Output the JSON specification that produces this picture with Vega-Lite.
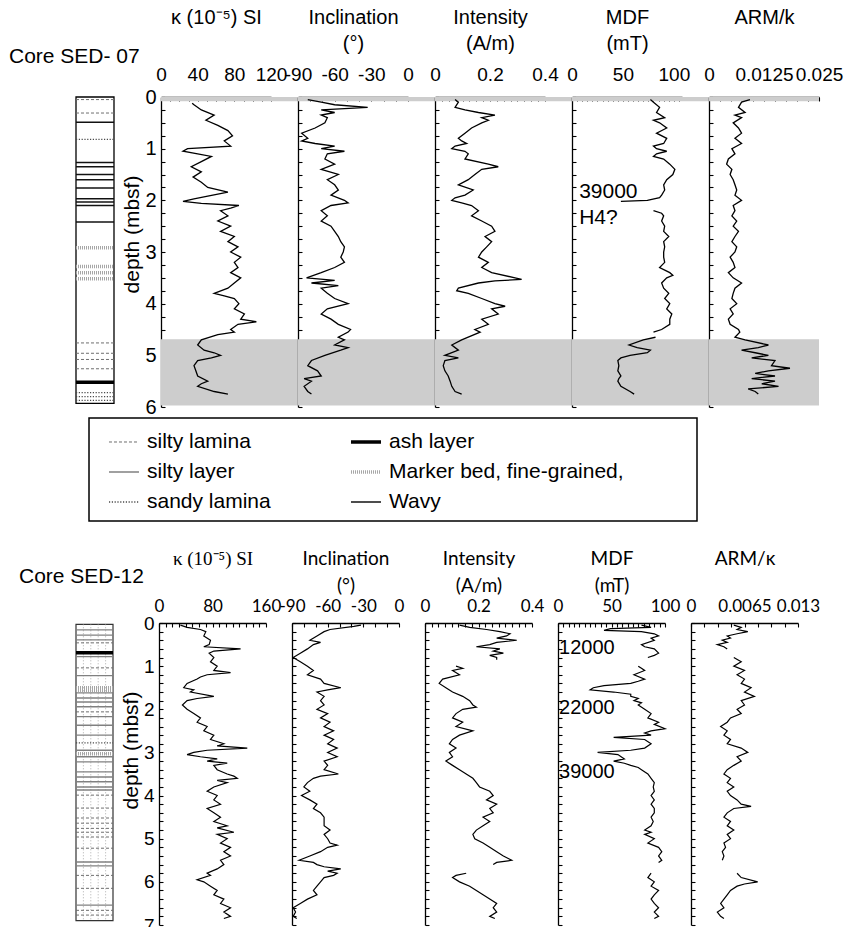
{
  "$schema": "https://vega.github.io/schema/vega-lite/v6.json",
  "padding": {"left": 8, "top": 6, "right": 5, "bottom": 5},
  "background": "white",
  "config": {
    "view": {"stroke": "transparent"},
    "font": "Liberation Sans",
    "axis": {
      "grid": false,
      "domainColor": "black",
      "domainWidth": 1.3,
      "tickColor": "black",
      "tickWidth": 1.1,
      "tickSize": -4,
      "labelColor": "black",
      "titleColor": "black",
      "titleFontWeight": "normal",
      "labelOverlap": false,
      "labelFlush": false
    }
  },
  "datasets": {
    "bands07": [{"d0": 0, "d1": 0.08}, {"d0": 4.69, "d1": 5.97}],
    "lith07": [
      {"d": 0.05, "type": "silty lamina"}, {"d": 0.31, "type": "silty lamina"}, {"d": 0.49, "type": "Wavy"},
      {"d": 0.82, "type": "sandy lamina"}, {"d": 1.27, "type": "Wavy"}, {"d": 1.35, "type": "Wavy"},
      {"d": 1.5, "type": "Wavy"}, {"d": 1.6, "type": "Wavy"}, {"d": 1.76, "type": "Wavy"},
      {"d": 1.97, "type": "Wavy"}, {"d": 2.03, "type": "Wavy"}, {"d": 2.1, "type": "Wavy"},
      {"d": 2.42, "type": "Wavy"}, {"d": 2.92, "type": "Marker bed, fine-grained,"},
      {"d": 3.28, "type": "Marker bed, fine-grained,"}, {"d": 3.4, "type": "Marker bed, fine-grained,"},
      {"d": 3.52, "type": "Marker bed, fine-grained,"}, {"d": 4.76, "type": "silty lamina"},
      {"d": 4.96, "type": "silty lamina"}, {"d": 5.08, "type": "silty lamina"}, {"d": 5.26, "type": "silty lamina"},
      {"d": 5.52, "type": "ash layer"}, {"d": 5.72, "type": "sandy lamina"}, {"d": 5.8, "type": "sandy lamina"},
      {"d": 5.87, "type": "sandy lamina"}
    ],
    "lith12": [
      {"d": 0.16, "type": "silty layer"}, {"d": 0.28, "type": "silty layer"}, {"d": 0.39, "type": "silty layer"},
      {"d": 0.46, "type": "silty lamina"}, {"d": 0.69, "type": "ash layer"}, {"d": 0.78, "type": "silty layer"},
      {"d": 1.04, "type": "silty lamina"}, {"d": 1.22, "type": "silty layer"}, {"d": 1.5, "type": "Marker bed, fine-grained,"},
      {"d": 1.56, "type": "Marker bed, fine-grained,"}, {"d": 1.62, "type": "silty layer"}, {"d": 1.74, "type": "silty layer"},
      {"d": 1.83, "type": "silty layer"}, {"d": 1.94, "type": "silty layer"}, {"d": 2.06, "type": "silty lamina"},
      {"d": 2.17, "type": "silty layer"}, {"d": 2.37, "type": "silty layer"}, {"d": 2.6, "type": "silty layer"},
      {"d": 2.78, "type": "sandy lamina"}, {"d": 2.95, "type": "silty layer"}, {"d": 3.03, "type": "Marker bed, fine-grained,"},
      {"d": 3.1, "type": "silty layer"}, {"d": 3.22, "type": "silty layer"}, {"d": 3.45, "type": "silty layer"},
      {"d": 3.57, "type": "silty layer"}, {"d": 3.68, "type": "silty layer"}, {"d": 3.8, "type": "silty layer"},
      {"d": 3.87, "type": "silty layer"}, {"d": 3.99, "type": "silty lamina"}, {"d": 4.29, "type": "silty lamina"},
      {"d": 4.52, "type": "silty lamina"}, {"d": 4.64, "type": "silty lamina"}, {"d": 4.76, "type": "silty lamina"},
      {"d": 4.85, "type": "silty lamina"}, {"d": 4.96, "type": "silty lamina"}, {"d": 5.22, "type": "silty lamina"},
      {"d": 5.54, "type": "silty layer"}, {"d": 5.63, "type": "silty layer"}, {"d": 5.85, "type": "silty lamina"},
      {"d": 6.15, "type": "silty lamina"}, {"d": 6.54, "type": "silty layer"}, {"d": 6.66, "type": "silty lamina"},
      {"d": 6.77, "type": "silty lamina"}
    ],
    "legend": [
      {"type": "silty lamina", "col": 1, "row": 1},
      {"type": "silty layer", "col": 1, "row": 2},
      {"type": "sandy lamina", "col": 1, "row": 3},
      {"type": "ash layer", "col": 2, "row": 1},
      {"type": "Marker bed, fine-grained,", "col": 2, "row": 2},
      {"type": "Wavy", "col": 2, "row": 3}
    ],
    "notes07": [{"d": 1.83, "v": 7, "label": "39000"}, {"d": 2.35, "v": 7, "label": "H4?"}],
    "notes12": [{"d": 0.58, "v": 1, "label": "12000"}, {"d": 1.97, "v": 1, "label": "22000"}, {"d": 3.45, "v": 1, "label": "39000"}],
    "k07": [
      {"d": 0.12, "v": 34}, {"d": 0.15, "v": 36}, {"d": 0.25, "v": 44}, {"d": 0.35, "v": 58}, {"d": 0.45, "v": 49},
      {"d": 0.55, "v": 62}, {"d": 0.65, "v": 73}, {"d": 0.75, "v": 78}, {"d": 0.85, "v": 69}, {"d": 0.95, "v": 76},
      {"d": 1.0, "v": 29}, {"d": 1.05, "v": 24}, {"d": 1.1, "v": 40}, {"d": 1.15, "v": 55}, {"d": 1.25, "v": 44},
      {"d": 1.35, "v": 33}, {"d": 1.45, "v": 44}, {"d": 1.55, "v": 35}, {"d": 1.65, "v": 44}, {"d": 1.75, "v": 51},
      {"d": 1.84, "v": 73}, {"d": 1.92, "v": 51}, {"d": 1.97, "v": 36}, {"d": 2.02, "v": 24}, {"d": 2.06, "v": 44},
      {"d": 2.1, "v": 85}, {"d": 2.15, "v": 76}, {"d": 2.2, "v": 65}, {"d": 2.3, "v": 73}, {"d": 2.4, "v": 62},
      {"d": 2.5, "v": 76}, {"d": 2.6, "v": 65}, {"d": 2.7, "v": 80}, {"d": 2.8, "v": 73}, {"d": 2.9, "v": 84},
      {"d": 3.0, "v": 76}, {"d": 3.1, "v": 87}, {"d": 3.2, "v": 80}, {"d": 3.3, "v": 84}, {"d": 3.4, "v": 76},
      {"d": 3.5, "v": 87}, {"d": 3.6, "v": 80}, {"d": 3.7, "v": 73}, {"d": 3.8, "v": 58}, {"d": 3.85, "v": 69},
      {"d": 3.9, "v": 80}, {"d": 4.0, "v": 85}, {"d": 4.1, "v": 80}, {"d": 4.2, "v": 91}, {"d": 4.3, "v": 87},
      {"d": 4.35, "v": 104}, {"d": 4.4, "v": 84}, {"d": 4.5, "v": 76}, {"d": 4.55, "v": 80}, {"d": 4.6, "v": 62},
      {"d": 4.7, "v": 44}, {"d": 4.8, "v": 40}, {"d": 4.9, "v": 47}, {"d": 4.95, "v": 58}, {"d": 5.0, "v": 65},
      {"d": 5.05, "v": 55}, {"d": 5.1, "v": 40}, {"d": 5.2, "v": 36}, {"d": 5.3, "v": 38}, {"d": 5.4, "v": 40},
      {"d": 5.5, "v": 51}, {"d": 5.55, "v": 44}, {"d": 5.6, "v": 40}, {"d": 5.7, "v": 58}, {"d": 5.75, "v": 73}
    ],
    "inc07": [
      {"d": 0.05, "v": -82}, {"d": 0.1, "v": -71}, {"d": 0.15, "v": -60}, {"d": 0.2, "v": -33}, {"d": 0.25, "v": -71},
      {"d": 0.3, "v": -60}, {"d": 0.35, "v": -71}, {"d": 0.4, "v": -66}, {"d": 0.5, "v": -68}, {"d": 0.6, "v": -76},
      {"d": 0.7, "v": -87}, {"d": 0.8, "v": -82}, {"d": 0.85, "v": -87}, {"d": 0.9, "v": -76}, {"d": 0.95, "v": -60},
      {"d": 1.0, "v": -71}, {"d": 1.05, "v": -52}, {"d": 1.1, "v": -66}, {"d": 1.2, "v": -68}, {"d": 1.3, "v": -60},
      {"d": 1.4, "v": -71}, {"d": 1.5, "v": -57}, {"d": 1.6, "v": -66}, {"d": 1.7, "v": -60}, {"d": 1.8, "v": -57},
      {"d": 1.9, "v": -63}, {"d": 2.0, "v": -52}, {"d": 2.05, "v": -49}, {"d": 2.1, "v": -63}, {"d": 2.2, "v": -71},
      {"d": 2.3, "v": -66}, {"d": 2.4, "v": -71}, {"d": 2.5, "v": -63}, {"d": 2.6, "v": -60}, {"d": 2.7, "v": -57},
      {"d": 2.8, "v": -55}, {"d": 2.9, "v": -52}, {"d": 3.0, "v": -53}, {"d": 3.1, "v": -55}, {"d": 3.2, "v": -52},
      {"d": 3.3, "v": -60}, {"d": 3.4, "v": -71}, {"d": 3.5, "v": -83}, {"d": 3.55, "v": -60}, {"d": 3.6, "v": -79},
      {"d": 3.65, "v": -57}, {"d": 3.7, "v": -71}, {"d": 3.8, "v": -66}, {"d": 3.9, "v": -60}, {"d": 4.0, "v": -49},
      {"d": 4.1, "v": -66}, {"d": 4.2, "v": -71}, {"d": 4.3, "v": -63}, {"d": 4.4, "v": -57}, {"d": 4.5, "v": -47},
      {"d": 4.55, "v": -49}, {"d": 4.65, "v": -57}, {"d": 4.7, "v": -52}, {"d": 4.8, "v": -60}, {"d": 4.85, "v": -49},
      {"d": 4.9, "v": -55}, {"d": 5.0, "v": -68}, {"d": 5.1, "v": -79}, {"d": 5.2, "v": -82}, {"d": 5.3, "v": -74},
      {"d": 5.4, "v": -71}, {"d": 5.45, "v": -85}, {"d": 5.5, "v": -79}, {"d": 5.6, "v": -85}, {"d": 5.7, "v": -82},
      {"d": 5.75, "v": -79}
    ],
    "int07": [
      {"d": 0.05, "v": 0.073}, {"d": 0.1, "v": 0.085}, {"d": 0.2, "v": 0.073}, {"d": 0.25, "v": 0.109}, {"d": 0.3, "v": 0.158},
      {"d": 0.35, "v": 0.218}, {"d": 0.4, "v": 0.17}, {"d": 0.45, "v": 0.194}, {"d": 0.5, "v": 0.17}, {"d": 0.6, "v": 0.133},
      {"d": 0.7, "v": 0.109}, {"d": 0.8, "v": 0.085}, {"d": 0.85, "v": 0.097}, {"d": 0.9, "v": 0.115}, {"d": 0.95, "v": 0.073},
      {"d": 1.0, "v": 0.061}, {"d": 1.05, "v": 0.109}, {"d": 1.1, "v": 0.121}, {"d": 1.2, "v": 0.109}, {"d": 1.3, "v": 0.194},
      {"d": 1.35, "v": 0.23}, {"d": 1.4, "v": 0.17}, {"d": 1.5, "v": 0.145}, {"d": 1.6, "v": 0.121}, {"d": 1.7, "v": 0.085},
      {"d": 1.8, "v": 0.139}, {"d": 1.9, "v": 0.109}, {"d": 1.95, "v": 0.073}, {"d": 2.0, "v": 0.061}, {"d": 2.05, "v": 0.097},
      {"d": 2.1, "v": 0.133}, {"d": 2.2, "v": 0.158}, {"d": 2.3, "v": 0.133}, {"d": 2.4, "v": 0.17}, {"d": 2.5, "v": 0.206},
      {"d": 2.6, "v": 0.218}, {"d": 2.7, "v": 0.182}, {"d": 2.8, "v": 0.206}, {"d": 2.9, "v": 0.188}, {"d": 3.0, "v": 0.17},
      {"d": 3.1, "v": 0.158}, {"d": 3.2, "v": 0.194}, {"d": 3.3, "v": 0.17}, {"d": 3.4, "v": 0.206}, {"d": 3.5, "v": 0.291},
      {"d": 3.53, "v": 0.315}, {"d": 3.56, "v": 0.218}, {"d": 3.6, "v": 0.158}, {"d": 3.7, "v": 0.085}, {"d": 3.75, "v": 0.079},
      {"d": 3.8, "v": 0.121}, {"d": 3.9, "v": 0.17}, {"d": 4.0, "v": 0.218}, {"d": 4.05, "v": 0.255}, {"d": 4.1, "v": 0.206},
      {"d": 4.2, "v": 0.23}, {"d": 4.3, "v": 0.17}, {"d": 4.4, "v": 0.194}, {"d": 4.5, "v": 0.145}, {"d": 4.55, "v": 0.164},
      {"d": 4.7, "v": 0.097}, {"d": 4.8, "v": 0.061}, {"d": 4.9, "v": 0.085}, {"d": 5.0, "v": 0.036}, {"d": 5.05, "v": 0.085},
      {"d": 5.1, "v": 0.036}, {"d": 5.2, "v": 0.03}, {"d": 5.3, "v": 0.036}, {"d": 5.4, "v": 0.048}, {"d": 5.5, "v": 0.055},
      {"d": 5.6, "v": 0.061}, {"d": 5.7, "v": 0.073}, {"d": 5.75, "v": 0.097}
    ],
    "mdf07": [
      {"d": 0.05, "v": 77, "s": 1}, {"d": 0.1, "v": 80, "s": 1}, {"d": 0.2, "v": 86, "s": 1}, {"d": 0.3, "v": 83, "s": 1},
      {"d": 0.4, "v": 91, "s": 1}, {"d": 0.45, "v": 80, "s": 1}, {"d": 0.5, "v": 86, "s": 1}, {"d": 0.6, "v": 93, "s": 1},
      {"d": 0.7, "v": 83, "s": 1}, {"d": 0.8, "v": 93, "s": 1}, {"d": 0.9, "v": 90, "s": 1}, {"d": 0.95, "v": 80, "s": 1},
      {"d": 1.0, "v": 83, "s": 1}, {"d": 1.05, "v": 93, "s": 1}, {"d": 1.1, "v": 83, "s": 1}, {"d": 1.15, "v": 80, "s": 1},
      {"d": 1.2, "v": 90, "s": 1}, {"d": 1.3, "v": 96, "s": 1}, {"d": 1.4, "v": 101, "s": 1}, {"d": 1.5, "v": 99, "s": 1},
      {"d": 1.6, "v": 93, "s": 1}, {"d": 1.7, "v": 90, "s": 1}, {"d": 1.8, "v": 91, "s": 1}, {"d": 1.9, "v": 88, "s": 1},
      {"d": 1.95, "v": 86, "s": 1}, {"d": 2.0, "v": 74, "s": 1}, {"d": 2.02, "v": 48, "s": 1},
      {"d": 2.2, "v": 80, "s": 2}, {"d": 2.25, "v": 88, "s": 2}, {"d": 2.3, "v": 90, "s": 2}, {"d": 2.4, "v": 88, "s": 2},
      {"d": 2.5, "v": 91, "s": 2}, {"d": 2.6, "v": 90, "s": 2}, {"d": 2.7, "v": 95, "s": 2}, {"d": 2.8, "v": 90, "s": 2},
      {"d": 2.9, "v": 91, "s": 2}, {"d": 3.0, "v": 90, "s": 2}, {"d": 3.1, "v": 90, "s": 2}, {"d": 3.2, "v": 91, "s": 2},
      {"d": 3.3, "v": 86, "s": 2}, {"d": 3.4, "v": 96, "s": 2}, {"d": 3.45, "v": 99, "s": 2}, {"d": 3.5, "v": 93, "s": 2},
      {"d": 3.6, "v": 88, "s": 2}, {"d": 3.7, "v": 90, "s": 2}, {"d": 3.8, "v": 95, "s": 2}, {"d": 3.9, "v": 91, "s": 2},
      {"d": 4.0, "v": 96, "s": 2}, {"d": 4.1, "v": 93, "s": 2}, {"d": 4.2, "v": 98, "s": 2}, {"d": 4.3, "v": 96, "s": 2},
      {"d": 4.4, "v": 96, "s": 2}, {"d": 4.5, "v": 88, "s": 2}, {"d": 4.55, "v": 80, "s": 2},
      {"d": 4.65, "v": 82, "s": 3}, {"d": 4.7, "v": 70, "s": 3}, {"d": 4.8, "v": 56, "s": 3}, {"d": 4.85, "v": 64, "s": 3},
      {"d": 4.9, "v": 77, "s": 3}, {"d": 4.95, "v": 74, "s": 3}, {"d": 5.0, "v": 57, "s": 3}, {"d": 5.05, "v": 48, "s": 3},
      {"d": 5.1, "v": 45, "s": 3}, {"d": 5.2, "v": 46, "s": 3}, {"d": 5.3, "v": 45, "s": 3}, {"d": 5.4, "v": 48, "s": 3},
      {"d": 5.45, "v": 46, "s": 3}, {"d": 5.5, "v": 45, "s": 3}, {"d": 5.6, "v": 48, "s": 3}, {"d": 5.7, "v": 57, "s": 3},
      {"d": 5.75, "v": 61, "s": 3}
    ],
    "arm07": [
      {"d": 0.05, "v": 0.0093}, {"d": 0.1, "v": 0.0074}, {"d": 0.2, "v": 0.0067}, {"d": 0.3, "v": 0.0082}, {"d": 0.35, "v": 0.0059},
      {"d": 0.4, "v": 0.0074}, {"d": 0.5, "v": 0.0055}, {"d": 0.6, "v": 0.0067}, {"d": 0.7, "v": 0.0074}, {"d": 0.8, "v": 0.0059},
      {"d": 0.9, "v": 0.0074}, {"d": 1.0, "v": 0.0052}, {"d": 1.1, "v": 0.0059}, {"d": 1.2, "v": 0.0044}, {"d": 1.3, "v": 0.004},
      {"d": 1.4, "v": 0.0052}, {"d": 1.5, "v": 0.0048}, {"d": 1.6, "v": 0.0055}, {"d": 1.7, "v": 0.0059}, {"d": 1.8, "v": 0.0063},
      {"d": 1.9, "v": 0.0059}, {"d": 2.0, "v": 0.0074}, {"d": 2.1, "v": 0.0055}, {"d": 2.2, "v": 0.0059}, {"d": 2.3, "v": 0.0052},
      {"d": 2.4, "v": 0.0063}, {"d": 2.5, "v": 0.0055}, {"d": 2.6, "v": 0.0067}, {"d": 2.7, "v": 0.0059}, {"d": 2.8, "v": 0.0052},
      {"d": 2.9, "v": 0.0063}, {"d": 3.0, "v": 0.0059}, {"d": 3.1, "v": 0.0048}, {"d": 3.2, "v": 0.0055}, {"d": 3.3, "v": 0.0059},
      {"d": 3.4, "v": 0.0044}, {"d": 3.5, "v": 0.0055}, {"d": 3.6, "v": 0.0074}, {"d": 3.7, "v": 0.0059}, {"d": 3.8, "v": 0.0055},
      {"d": 3.9, "v": 0.0052}, {"d": 4.0, "v": 0.0063}, {"d": 4.1, "v": 0.0048}, {"d": 4.2, "v": 0.0055}, {"d": 4.3, "v": 0.0044},
      {"d": 4.4, "v": 0.0048}, {"d": 4.5, "v": 0.0067}, {"d": 4.55, "v": 0.007}, {"d": 4.65, "v": 0.0059}, {"d": 4.7, "v": 0.0082},
      {"d": 4.8, "v": 0.0135}, {"d": 4.85, "v": 0.0112}, {"d": 4.9, "v": 0.0074}, {"d": 4.95, "v": 0.0105}, {"d": 5.0, "v": 0.0135},
      {"d": 5.05, "v": 0.0097}, {"d": 5.1, "v": 0.015}, {"d": 5.2, "v": 0.0142}, {"d": 5.25, "v": 0.0184}, {"d": 5.3, "v": 0.0135},
      {"d": 5.35, "v": 0.0105}, {"d": 5.4, "v": 0.015}, {"d": 5.45, "v": 0.0097}, {"d": 5.5, "v": 0.015}, {"d": 5.55, "v": 0.012},
      {"d": 5.6, "v": 0.0158}, {"d": 5.65, "v": 0.0089}, {"d": 5.7, "v": 0.0105}, {"d": 5.75, "v": 0.0112}
    ],
    "k12": [
      {"d": 0.05, "v": 32}, {"d": 0.1, "v": 42}, {"d": 0.15, "v": 62}, {"d": 0.2, "v": 70}, {"d": 0.3, "v": 67},
      {"d": 0.4, "v": 77}, {"d": 0.5, "v": 75}, {"d": 0.55, "v": 67}, {"d": 0.6, "v": 122}, {"d": 0.65, "v": 82},
      {"d": 0.7, "v": 75}, {"d": 0.8, "v": 82}, {"d": 0.9, "v": 77}, {"d": 1.0, "v": 87}, {"d": 1.1, "v": 82},
      {"d": 1.15, "v": 107}, {"d": 1.2, "v": 72}, {"d": 1.25, "v": 62}, {"d": 1.3, "v": 57}, {"d": 1.4, "v": 42},
      {"d": 1.5, "v": 37}, {"d": 1.55, "v": 52}, {"d": 1.6, "v": 47}, {"d": 1.7, "v": 82}, {"d": 1.75, "v": 57},
      {"d": 1.8, "v": 42}, {"d": 1.9, "v": 35}, {"d": 2.0, "v": 42}, {"d": 2.1, "v": 52}, {"d": 2.2, "v": 62},
      {"d": 2.3, "v": 57}, {"d": 2.4, "v": 72}, {"d": 2.5, "v": 67}, {"d": 2.6, "v": 82}, {"d": 2.7, "v": 77},
      {"d": 2.8, "v": 97}, {"d": 2.85, "v": 87}, {"d": 2.9, "v": 132}, {"d": 2.95, "v": 72}, {"d": 3.0, "v": 52},
      {"d": 3.05, "v": 42}, {"d": 3.1, "v": 62}, {"d": 3.15, "v": 87}, {"d": 3.2, "v": 72}, {"d": 3.25, "v": 102},
      {"d": 3.3, "v": 82}, {"d": 3.4, "v": 87}, {"d": 3.5, "v": 102}, {"d": 3.55, "v": 112}, {"d": 3.6, "v": 117},
      {"d": 3.65, "v": 87}, {"d": 3.7, "v": 102}, {"d": 3.8, "v": 82}, {"d": 3.9, "v": 72}, {"d": 4.0, "v": 87},
      {"d": 4.1, "v": 82}, {"d": 4.2, "v": 92}, {"d": 4.3, "v": 72}, {"d": 4.4, "v": 82}, {"d": 4.5, "v": 92},
      {"d": 4.6, "v": 82}, {"d": 4.7, "v": 102}, {"d": 4.75, "v": 87}, {"d": 4.85, "v": 112}, {"d": 4.9, "v": 87},
      {"d": 5.0, "v": 102}, {"d": 5.1, "v": 92}, {"d": 5.2, "v": 107}, {"d": 5.3, "v": 97}, {"d": 5.4, "v": 107},
      {"d": 5.5, "v": 92}, {"d": 5.6, "v": 97}, {"d": 5.7, "v": 87}, {"d": 5.8, "v": 72}, {"d": 5.85, "v": 77},
      {"d": 5.95, "v": 57}, {"d": 6.0, "v": 67}, {"d": 6.1, "v": 77}, {"d": 6.2, "v": 87}, {"d": 6.3, "v": 82},
      {"d": 6.4, "v": 97}, {"d": 6.5, "v": 92}, {"d": 6.6, "v": 107}, {"d": 6.7, "v": 97}, {"d": 6.8, "v": 107},
      {"d": 6.85, "v": 97}
    ],
    "inc12": [
      {"d": 0.05, "v": -32}, {"d": 0.08, "v": -38}, {"d": 0.15, "v": -58}, {"d": 0.2, "v": -63}, {"d": 0.3, "v": -69},
      {"d": 0.4, "v": -75}, {"d": 0.45, "v": -66}, {"d": 0.5, "v": -72}, {"d": 0.6, "v": -77}, {"d": 0.7, "v": -83},
      {"d": 0.8, "v": -89}, {"d": 0.9, "v": -83}, {"d": 1.0, "v": -77}, {"d": 1.1, "v": -72}, {"d": 1.2, "v": -77},
      {"d": 1.3, "v": -66}, {"d": 1.4, "v": -63}, {"d": 1.5, "v": -49}, {"d": 1.55, "v": -60}, {"d": 1.6, "v": -69},
      {"d": 1.7, "v": -63}, {"d": 1.8, "v": -66}, {"d": 1.9, "v": -63}, {"d": 2.0, "v": -69}, {"d": 2.1, "v": -60},
      {"d": 2.2, "v": -66}, {"d": 2.3, "v": -58}, {"d": 2.4, "v": -63}, {"d": 2.5, "v": -55}, {"d": 2.6, "v": -63},
      {"d": 2.7, "v": -55}, {"d": 2.8, "v": -60}, {"d": 2.9, "v": -52}, {"d": 3.0, "v": -60}, {"d": 3.1, "v": -52},
      {"d": 3.2, "v": -63}, {"d": 3.3, "v": -60}, {"d": 3.4, "v": -63}, {"d": 3.5, "v": -51}, {"d": 3.55, "v": -66},
      {"d": 3.6, "v": -72}, {"d": 3.7, "v": -77}, {"d": 3.8, "v": -80}, {"d": 3.9, "v": -75}, {"d": 4.0, "v": -82},
      {"d": 4.1, "v": -75}, {"d": 4.2, "v": -69}, {"d": 4.3, "v": -72}, {"d": 4.4, "v": -66}, {"d": 4.5, "v": -63},
      {"d": 4.7, "v": -63}, {"d": 4.8, "v": -58}, {"d": 4.9, "v": -63}, {"d": 5.0, "v": -60}, {"d": 5.1, "v": -58},
      {"d": 5.15, "v": -52}, {"d": 5.2, "v": -60}, {"d": 5.3, "v": -66}, {"d": 5.4, "v": -75}, {"d": 5.5, "v": -84},
      {"d": 5.55, "v": -72}, {"d": 5.6, "v": -69}, {"d": 5.65, "v": -63}, {"d": 5.7, "v": -49}, {"d": 5.75, "v": -60},
      {"d": 5.8, "v": -52}, {"d": 5.85, "v": -55}, {"d": 5.9, "v": -63}, {"d": 6.0, "v": -66}, {"d": 6.1, "v": -69},
      {"d": 6.2, "v": -72}, {"d": 6.3, "v": -69}, {"d": 6.4, "v": -77}, {"d": 6.5, "v": -83}, {"d": 6.6, "v": -89},
      {"d": 6.7, "v": -87}, {"d": 6.8, "v": -89}, {"d": 6.85, "v": -86}
    ],
    "int12": [
      {"d": 0.05, "v": 0.129, "s": 1}, {"d": 0.1, "v": 0.167, "s": 1}, {"d": 0.15, "v": 0.23, "s": 1}, {"d": 0.2, "v": 0.28, "s": 1},
      {"d": 0.25, "v": 0.318, "s": 1}, {"d": 0.3, "v": 0.305, "s": 1}, {"d": 0.35, "v": 0.268, "s": 1}, {"d": 0.4, "v": 0.343, "s": 1},
      {"d": 0.45, "v": 0.268, "s": 1}, {"d": 0.5, "v": 0.242, "s": 1}, {"d": 0.55, "v": 0.192, "s": 1}, {"d": 0.6, "v": 0.28, "s": 1},
      {"d": 0.65, "v": 0.255, "s": 1}, {"d": 0.7, "v": 0.293, "s": 1}, {"d": 0.75, "v": 0.242, "s": 1}, {"d": 0.8, "v": 0.268, "s": 1},
      {"d": 0.85, "v": 0.268, "s": 1},
      {"d": 1.0, "v": 0.116, "s": 2}, {"d": 1.05, "v": 0.141, "s": 2}, {"d": 1.1, "v": 0.103, "s": 2}, {"d": 1.2, "v": 0.129, "s": 2},
      {"d": 1.3, "v": 0.066, "s": 2}, {"d": 1.4, "v": 0.053, "s": 2}, {"d": 1.5, "v": 0.078, "s": 2}, {"d": 1.6, "v": 0.103, "s": 2},
      {"d": 1.7, "v": 0.141, "s": 2}, {"d": 1.8, "v": 0.167, "s": 2}, {"d": 1.9, "v": 0.179, "s": 2}, {"d": 1.95, "v": 0.192, "s": 2},
      {"d": 2.0, "v": 0.141, "s": 2}, {"d": 2.1, "v": 0.116, "s": 2}, {"d": 2.2, "v": 0.103, "s": 2}, {"d": 2.3, "v": 0.141, "s": 2},
      {"d": 2.4, "v": 0.116, "s": 2}, {"d": 2.5, "v": 0.179, "s": 2}, {"d": 2.6, "v": 0.129, "s": 2}, {"d": 2.7, "v": 0.103, "s": 2},
      {"d": 2.8, "v": 0.091, "s": 2}, {"d": 2.9, "v": 0.116, "s": 2}, {"d": 3.0, "v": 0.091, "s": 2}, {"d": 3.1, "v": 0.103, "s": 2},
      {"d": 3.2, "v": 0.078, "s": 2}, {"d": 3.3, "v": 0.103, "s": 2}, {"d": 3.4, "v": 0.129, "s": 2}, {"d": 3.5, "v": 0.154, "s": 2},
      {"d": 3.6, "v": 0.179, "s": 2}, {"d": 3.7, "v": 0.192, "s": 2}, {"d": 3.8, "v": 0.204, "s": 2}, {"d": 3.9, "v": 0.242, "s": 2},
      {"d": 4.0, "v": 0.255, "s": 2}, {"d": 4.1, "v": 0.23, "s": 2}, {"d": 4.2, "v": 0.268, "s": 2}, {"d": 4.3, "v": 0.242, "s": 2},
      {"d": 4.4, "v": 0.255, "s": 2}, {"d": 4.5, "v": 0.217, "s": 2}, {"d": 4.6, "v": 0.242, "s": 2}, {"d": 4.7, "v": 0.217, "s": 2},
      {"d": 4.8, "v": 0.192, "s": 2}, {"d": 4.9, "v": 0.179, "s": 2}, {"d": 5.0, "v": 0.186, "s": 2}, {"d": 5.1, "v": 0.217, "s": 2},
      {"d": 5.2, "v": 0.242, "s": 2}, {"d": 5.3, "v": 0.268, "s": 2}, {"d": 5.4, "v": 0.293, "s": 2}, {"d": 5.5, "v": 0.324, "s": 2},
      {"d": 5.55, "v": 0.268, "s": 2}, {"d": 5.6, "v": 0.255, "s": 2},
      {"d": 5.8, "v": 0.154, "s": 3}, {"d": 5.85, "v": 0.116, "s": 3}, {"d": 5.9, "v": 0.103, "s": 3}, {"d": 6.0, "v": 0.129, "s": 3},
      {"d": 6.1, "v": 0.167, "s": 3}, {"d": 6.2, "v": 0.192, "s": 3}, {"d": 6.3, "v": 0.217, "s": 3}, {"d": 6.4, "v": 0.242, "s": 3},
      {"d": 6.5, "v": 0.268, "s": 3}, {"d": 6.6, "v": 0.255, "s": 3}, {"d": 6.7, "v": 0.268, "s": 3}, {"d": 6.8, "v": 0.242, "s": 3},
      {"d": 6.85, "v": 0.261, "s": 3}
    ],
    "mdf12": [
      {"d": 0.05, "v": 78, "s": 1}, {"d": 0.1, "v": 87, "s": 1}, {"d": 0.13, "v": 49, "s": 1}, {"d": 0.17, "v": 43, "s": 1},
      {"d": 0.2, "v": 78, "s": 1}, {"d": 0.25, "v": 90, "s": 1}, {"d": 0.3, "v": 94, "s": 1}, {"d": 0.35, "v": 87, "s": 1},
      {"d": 0.4, "v": 90, "s": 1}, {"d": 0.5, "v": 78, "s": 1}, {"d": 0.55, "v": 81, "s": 1}, {"d": 0.6, "v": 90, "s": 1},
      {"d": 0.7, "v": 94, "s": 1}, {"d": 0.75, "v": 90, "s": 1}, {"d": 0.8, "v": 84, "s": 1},
      {"d": 1.0, "v": 75, "s": 2}, {"d": 1.05, "v": 78, "s": 2}, {"d": 1.1, "v": 81, "s": 2}, {"d": 1.2, "v": 71, "s": 2},
      {"d": 1.3, "v": 81, "s": 2}, {"d": 1.35, "v": 75, "s": 2}, {"d": 1.4, "v": 68, "s": 2}, {"d": 1.45, "v": 43, "s": 2},
      {"d": 1.5, "v": 33, "s": 2}, {"d": 1.55, "v": 30, "s": 2}, {"d": 1.6, "v": 52, "s": 2}, {"d": 1.65, "v": 68, "s": 2},
      {"d": 1.7, "v": 68, "s": 2}, {"d": 1.75, "v": 75, "s": 2}, {"d": 1.8, "v": 71, "s": 2}, {"d": 1.85, "v": 78, "s": 2},
      {"d": 1.9, "v": 75, "s": 2}, {"d": 2.0, "v": 81, "s": 2}, {"d": 2.1, "v": 87, "s": 2}, {"d": 2.2, "v": 84, "s": 2},
      {"d": 2.3, "v": 94, "s": 2}, {"d": 2.35, "v": 90, "s": 2}, {"d": 2.45, "v": 100, "s": 2}, {"d": 2.5, "v": 87, "s": 2},
      {"d": 2.55, "v": 81, "s": 2}, {"d": 2.6, "v": 87, "s": 2}, {"d": 2.65, "v": 52, "s": 2}, {"d": 2.7, "v": 81, "s": 2},
      {"d": 2.8, "v": 87, "s": 2}, {"d": 2.9, "v": 81, "s": 2}, {"d": 2.95, "v": 68, "s": 2}, {"d": 3.0, "v": 37, "s": 2},
      {"d": 3.05, "v": 56, "s": 2}, {"d": 3.1, "v": 59, "s": 2}, {"d": 3.15, "v": 62, "s": 2}, {"d": 3.2, "v": 52, "s": 2},
      {"d": 3.25, "v": 62, "s": 2}, {"d": 3.3, "v": 68, "s": 2}, {"d": 3.35, "v": 75, "s": 2}, {"d": 3.4, "v": 78, "s": 2},
      {"d": 3.5, "v": 84, "s": 2}, {"d": 3.6, "v": 87, "s": 2}, {"d": 3.7, "v": 90, "s": 2}, {"d": 3.8, "v": 89, "s": 2},
      {"d": 3.9, "v": 90, "s": 2}, {"d": 4.0, "v": 87, "s": 2}, {"d": 4.1, "v": 90, "s": 2}, {"d": 4.2, "v": 87, "s": 2},
      {"d": 4.3, "v": 90, "s": 2}, {"d": 4.4, "v": 90, "s": 2}, {"d": 4.5, "v": 87, "s": 2}, {"d": 4.6, "v": 89, "s": 2},
      {"d": 4.7, "v": 87, "s": 2}, {"d": 4.8, "v": 81, "s": 2}, {"d": 4.85, "v": 87, "s": 2}, {"d": 4.9, "v": 81, "s": 2},
      {"d": 5.0, "v": 90, "s": 2}, {"d": 5.1, "v": 84, "s": 2}, {"d": 5.2, "v": 94, "s": 2}, {"d": 5.3, "v": 97, "s": 2},
      {"d": 5.4, "v": 94, "s": 2}, {"d": 5.5, "v": 97, "s": 2}, {"d": 5.55, "v": 94, "s": 2},
      {"d": 5.8, "v": 87, "s": 3}, {"d": 5.9, "v": 84, "s": 3}, {"d": 6.0, "v": 90, "s": 3}, {"d": 6.1, "v": 87, "s": 3},
      {"d": 6.2, "v": 94, "s": 3}, {"d": 6.3, "v": 90, "s": 3}, {"d": 6.4, "v": 87, "s": 3}, {"d": 6.5, "v": 90, "s": 3},
      {"d": 6.6, "v": 94, "s": 3}, {"d": 6.7, "v": 90, "s": 3}, {"d": 6.8, "v": 94, "s": 3}, {"d": 6.85, "v": 90, "s": 3}
    ],
    "arm12": [
      {"d": 0.05, "v": 0.0052, "s": 1}, {"d": 0.1, "v": 0.0061, "s": 1}, {"d": 0.15, "v": 0.0056, "s": 1}, {"d": 0.2, "v": 0.0069, "s": 1},
      {"d": 0.25, "v": 0.0056, "s": 1}, {"d": 0.3, "v": 0.0044, "s": 1}, {"d": 0.35, "v": 0.0048, "s": 1}, {"d": 0.4, "v": 0.0038, "s": 1},
      {"d": 0.45, "v": 0.0044, "s": 1}, {"d": 0.5, "v": 0.0032, "s": 1}, {"d": 0.55, "v": 0.004, "s": 1}, {"d": 0.6, "v": 0.0044, "s": 1},
      {"d": 0.8, "v": 0.0052, "s": 2}, {"d": 0.9, "v": 0.0061, "s": 2}, {"d": 1.0, "v": 0.0052, "s": 2}, {"d": 1.1, "v": 0.0065, "s": 2},
      {"d": 1.2, "v": 0.0056, "s": 2}, {"d": 1.3, "v": 0.0065, "s": 2}, {"d": 1.4, "v": 0.0061, "s": 2}, {"d": 1.5, "v": 0.0073, "s": 2},
      {"d": 1.6, "v": 0.0065, "s": 2}, {"d": 1.7, "v": 0.0077, "s": 2}, {"d": 1.8, "v": 0.0061, "s": 2}, {"d": 1.9, "v": 0.0065, "s": 2},
      {"d": 2.0, "v": 0.0056, "s": 2}, {"d": 2.1, "v": 0.0061, "s": 2}, {"d": 2.2, "v": 0.0048, "s": 2}, {"d": 2.3, "v": 0.0044, "s": 2},
      {"d": 2.4, "v": 0.0036, "s": 2}, {"d": 2.5, "v": 0.0044, "s": 2}, {"d": 2.6, "v": 0.004, "s": 2}, {"d": 2.7, "v": 0.0048, "s": 2},
      {"d": 2.8, "v": 0.0044, "s": 2}, {"d": 2.9, "v": 0.0061, "s": 2}, {"d": 3.0, "v": 0.0069, "s": 2}, {"d": 3.1, "v": 0.0056, "s": 2},
      {"d": 3.2, "v": 0.0061, "s": 2}, {"d": 3.3, "v": 0.0052, "s": 2}, {"d": 3.4, "v": 0.0044, "s": 2}, {"d": 3.5, "v": 0.004, "s": 2},
      {"d": 3.6, "v": 0.0048, "s": 2}, {"d": 3.7, "v": 0.0044, "s": 2}, {"d": 3.8, "v": 0.0052, "s": 2}, {"d": 3.9, "v": 0.0044, "s": 2},
      {"d": 4.0, "v": 0.0048, "s": 2}, {"d": 4.1, "v": 0.0056, "s": 2}, {"d": 4.2, "v": 0.0061, "s": 2}, {"d": 4.25, "v": 0.0073, "s": 2},
      {"d": 4.3, "v": 0.0052, "s": 2}, {"d": 4.4, "v": 0.0044, "s": 2}, {"d": 4.5, "v": 0.004, "s": 2}, {"d": 4.6, "v": 0.0048, "s": 2},
      {"d": 4.7, "v": 0.0044, "s": 2}, {"d": 4.8, "v": 0.0052, "s": 2}, {"d": 4.9, "v": 0.0044, "s": 2}, {"d": 5.0, "v": 0.0048, "s": 2},
      {"d": 5.1, "v": 0.004, "s": 2}, {"d": 5.2, "v": 0.0042, "s": 2}, {"d": 5.3, "v": 0.0038, "s": 2}, {"d": 5.4, "v": 0.004, "s": 2},
      {"d": 5.5, "v": 0.0038, "s": 2},
      {"d": 5.8, "v": 0.0056, "s": 3}, {"d": 5.9, "v": 0.0061, "s": 3}, {"d": 6.0, "v": 0.0081, "s": 3}, {"d": 6.05, "v": 0.0065, "s": 3},
      {"d": 6.1, "v": 0.0056, "s": 3}, {"d": 6.2, "v": 0.0048, "s": 3}, {"d": 6.3, "v": 0.0044, "s": 3}, {"d": 6.4, "v": 0.004, "s": 3},
      {"d": 6.5, "v": 0.0036, "s": 3}, {"d": 6.6, "v": 0.004, "s": 3}, {"d": 6.7, "v": 0.0032, "s": 3}, {"d": 6.8, "v": 0.0036, "s": 3},
      {"d": 6.85, "v": 0.004, "s": 3}
    ]
  },
  "spacing": -2,
  "vconcat": [
    {
      "bounds": "flush",
      "spacing": 27,
      "hconcat": [
        {
          "width": 125,
          "height": 310,
          "title": {"text": "Core SED- 07", "anchor": "start", "frame": "group", "offset": 29, "fontSize": 21, "fontWeight": "normal", "color": "black"},
          "layer": [
            {
              "data": {"values": [{"top": 0, "base": 5.93}]},
              "mark": {"type": "rect", "fill": "white", "stroke": "black", "strokeWidth": 1.3},
              "encoding": {
                "x": {"datum": 0, "type": "quantitative", "scale": {"domain": [-8.816, 7.632], "nice": false, "zero": false}, "axis": null},
                "x2": {"datum": 5},
                "y": {"field": "top", "type": "quantitative", "scale": {"domain": [0, 6], "reverse": true, "nice": false, "zero": false}, "axis": null},
                "y2": {"field": "base"}
              }
            },
            {
              "data": {"name": "lith07"},
              "mark": {"type": "rule"},
              "encoding": {
                "x": {"datum": 0, "type": "quantitative", "scale": {"domain": [-8.816, 7.632], "nice": false, "zero": false}, "axis": null},
                "x2": {"datum": 5},
                "y": {"field": "d", "type": "quantitative", "scale": {"domain": [0, 6], "reverse": true, "nice": false, "zero": false}, "axis": null},
                "color": {"field": "type", "type": "nominal", "legend": null, "scale": {"domain": ["silty lamina", "silty layer", "sandy lamina", "ash layer", "Marker bed, fine-grained,", "Wavy"], "range": ["#6e6e6e", "#808080", "#4a4a4a", "#000000", "#a6a6a6", "#111111"]}},
                "strokeDash": {"field": "type", "type": "nominal", "legend": null, "scale": {"domain": ["silty lamina", "silty layer", "sandy lamina", "ash layer", "Marker bed, fine-grained,", "Wavy"], "range": [[3, 2], [1, 0], [1.2, 1.6], [1, 0], [1, 1], [1, 0]]}},
                "strokeWidth": {"field": "type", "type": "nominal", "legend": null, "scale": {"type": "ordinal", "domain": ["silty lamina", "silty layer", "sandy lamina", "ash layer", "Marker bed, fine-grained,", "Wavy"], "range": [1, 1.4, 1.3, 3.5, 3.5, 1.5]}}
              }
            }
          ]
        },
        {
          "width": 110,
          "height": 310,
          "layer": [
            {
              "data": {"name": "bands07"},
              "mark": {"type": "rect", "color": "#cdcdcd"},
              "encoding": {
                "x": {"datum": 0, "type": "quantitative", "scale": {"domain": [0, 120], "nice": false, "zero": false},
                  "axis": {"orient": "top", "values": [0, 10, 20, 30, 40, 50, 60, 70, 80, 90, 100, 110, 120], "labelExpr": "datum.value % 40 === 0 ? toString(datum.value) : ''", "title": ["κ (10⁻⁵) SI", " "], "labelFontSize": 19, "titleFontSize": 20, "titleLineHeight": 26, "labelPadding": 17, "titlePadding": 12}},
                "x2": {"datum": 149.45},
                "y": {"field": "d0", "type": "quantitative", "scale": {"domain": [0, 6], "reverse": true, "nice": false, "zero": false},
                  "axis": {"orient": "left", "values": [0, 0.25, 0.5, 0.75, 1, 1.25, 1.5, 1.75, 2, 2.25, 2.5, 2.75, 3, 3.25, 3.5, 3.75, 4, 4.25, 4.5, 4.75, 5, 5.25, 5.5, 5.75, 6], "labelExpr": "datum.value % 1 === 0 ? toString(datum.value) : ''", "title": "depth (mbsf)", "titleY": 137, "titlePadding": 2, "labelPadding": 9, "labelFontSize": 20, "titleFontSize": 21}},
                "y2": {"field": "d1"}
              }
            },
            {
              "data": {"name": "k07"},
              "mark": {"type": "line", "color": "black", "strokeWidth": 1.3},
              "encoding": {
                "x": {"field": "v", "type": "quantitative", "scale": {"domain": [0, 120], "nice": false, "zero": false},
                  "axis": {"orient": "top", "values": [0, 10, 20, 30, 40, 50, 60, 70, 80, 90, 100, 110, 120], "labelExpr": "datum.value % 40 === 0 ? toString(datum.value) : ''", "title": ["κ (10⁻⁵) SI", " "], "labelFontSize": 19, "titleFontSize": 20, "titleLineHeight": 26, "labelPadding": 17, "titlePadding": 12}},
                "y": {"field": "d", "type": "quantitative", "scale": {"domain": [0, 6], "reverse": true, "nice": false, "zero": false},
                  "axis": {"orient": "left", "values": [0, 0.25, 0.5, 0.75, 1, 1.25, 1.5, 1.75, 2, 2.25, 2.5, 2.75, 3, 3.25, 3.5, 3.75, 4, 4.25, 4.5, 4.75, 5, 5.25, 5.5, 5.75, 6], "labelExpr": "datum.value % 1 === 0 ? toString(datum.value) : ''", "title": "depth (mbsf)", "titleY": 137, "titlePadding": 2, "labelPadding": 9, "labelFontSize": 20, "titleFontSize": 21}},
                "order": {"field": "d", "type": "quantitative"}
              }
            }
          ]
        },
        {
          "width": 110,
          "height": 310,
          "layer": [
            {
              "data": {"name": "bands07"},
              "mark": {"type": "rect", "color": "#cdcdcd"},
              "encoding": {
                "x": {"datum": -90, "type": "quantitative", "scale": {"domain": [-90, 0], "nice": false, "zero": false},
                  "axis": {"orient": "top", "values": [-90, -80, -70, -60, -50, -40, -30, -20, -10, 0], "labelExpr": "datum.value % 30 === 0 ? toString(datum.value) : ''", "title": ["Inclination", "(°)"], "labelFontSize": 19, "titleFontSize": 20, "titleLineHeight": 26, "labelPadding": 17, "titlePadding": 12}},
                "x2": {"datum": 22.09},
                "y": {"field": "d0", "type": "quantitative", "scale": {"domain": [0, 6], "reverse": true, "nice": false, "zero": false},
                  "axis": {"orient": "left", "values": [0, 0.25, 0.5, 0.75, 1, 1.25, 1.5, 1.75, 2, 2.25, 2.5, 2.75, 3, 3.25, 3.5, 3.75, 4, 4.25, 4.5, 4.75, 5, 5.25, 5.5, 5.75, 6], "labels": false, "title": null, "minExtent": 0, "maxExtent": 0}},
                "y2": {"field": "d1"}
              }
            },
            {
              "data": {"name": "inc07"},
              "mark": {"type": "line", "color": "black", "strokeWidth": 1.3},
              "encoding": {
                "x": {"field": "v", "type": "quantitative", "scale": {"domain": [-90, 0], "nice": false, "zero": false},
                  "axis": {"orient": "top", "values": [-90, -80, -70, -60, -50, -40, -30, -20, -10, 0], "labelExpr": "datum.value % 30 === 0 ? toString(datum.value) : ''", "title": ["Inclination", "(°)"], "labelFontSize": 19, "titleFontSize": 20, "titleLineHeight": 26, "labelPadding": 17, "titlePadding": 12}},
                "y": {"field": "d", "type": "quantitative", "scale": {"domain": [0, 6], "reverse": true, "nice": false, "zero": false},
                  "axis": {"orient": "left", "values": [0, 0.25, 0.5, 0.75, 1, 1.25, 1.5, 1.75, 2, 2.25, 2.5, 2.75, 3, 3.25, 3.5, 3.75, 4, 4.25, 4.5, 4.75, 5, 5.25, 5.5, 5.75, 6], "labels": false, "title": null, "minExtent": 0, "maxExtent": 0}},
                "order": {"field": "d", "type": "quantitative"}
              }
            }
          ]
        },
        {
          "width": 110,
          "height": 310,
          "layer": [
            {
              "data": {"name": "bands07"},
              "mark": {"type": "rect", "color": "#cdcdcd"},
              "encoding": {
                "x": {"datum": 0, "type": "quantitative", "scale": {"domain": [0, 0.4], "nice": false, "zero": false},
                  "axis": {"orient": "top", "values": [0, 0.025, 0.05, 0.075, 0.1, 0.125, 0.15, 0.175, 0.2, 0.225, 0.25, 0.275, 0.3, 0.325, 0.35, 0.375, 0.4], "labelExpr": "indexof([0, 0.2, 0.4], datum.value) >= 0 ? toString(datum.value) : ''", "title": ["Intensity", "(A/m)"], "labelFontSize": 19, "titleFontSize": 20, "titleLineHeight": 26, "labelPadding": 17, "titlePadding": 12}},
                "x2": {"datum": 0.498},
                "y": {"field": "d0", "type": "quantitative", "scale": {"domain": [0, 6], "reverse": true, "nice": false, "zero": false},
                  "axis": {"orient": "left", "values": [0, 0.25, 0.5, 0.75, 1, 1.25, 1.5, 1.75, 2, 2.25, 2.5, 2.75, 3, 3.25, 3.5, 3.75, 4, 4.25, 4.5, 4.75, 5, 5.25, 5.5, 5.75, 6], "labels": false, "title": null, "minExtent": 0, "maxExtent": 0}},
                "y2": {"field": "d1"}
              }
            },
            {
              "data": {"name": "int07"},
              "mark": {"type": "line", "color": "black", "strokeWidth": 1.3},
              "encoding": {
                "x": {"field": "v", "type": "quantitative", "scale": {"domain": [0, 0.4], "nice": false, "zero": false},
                  "axis": {"orient": "top", "values": [0, 0.025, 0.05, 0.075, 0.1, 0.125, 0.15, 0.175, 0.2, 0.225, 0.25, 0.275, 0.3, 0.325, 0.35, 0.375, 0.4], "labelExpr": "indexof([0, 0.2, 0.4], datum.value) >= 0 ? toString(datum.value) : ''", "title": ["Intensity", "(A/m)"], "labelFontSize": 19, "titleFontSize": 20, "titleLineHeight": 26, "labelPadding": 17, "titlePadding": 12}},
                "y": {"field": "d", "type": "quantitative", "scale": {"domain": [0, 6], "reverse": true, "nice": false, "zero": false},
                  "axis": {"orient": "left", "values": [0, 0.25, 0.5, 0.75, 1, 1.25, 1.5, 1.75, 2, 2.25, 2.5, 2.75, 3, 3.25, 3.5, 3.75, 4, 4.25, 4.5, 4.75, 5, 5.25, 5.5, 5.75, 6], "labels": false, "title": null, "minExtent": 0, "maxExtent": 0}},
                "order": {"field": "d", "type": "quantitative"}
              }
            }
          ]
        },
        {
          "width": 110,
          "height": 310,
          "layer": [
            {
              "data": {"name": "bands07"},
              "mark": {"type": "rect", "color": "#cdcdcd"},
              "encoding": {
                "x": {"datum": 0, "type": "quantitative", "scale": {"domain": [0, 108], "nice": false, "zero": false},
                  "axis": {"orient": "top", "values": [0, 5, 10, 15, 20, 25, 30, 35, 40, 45, 50, 55, 60, 65, 70, 75, 80, 85, 90, 95, 100, 105], "labelExpr": "datum.value % 50 === 0 ? toString(datum.value) : ''", "title": ["MDF", "(mT)"], "labelFontSize": 19, "titleFontSize": 20, "titleLineHeight": 26, "labelPadding": 17, "titlePadding": 12}},
                "x2": {"datum": 134.5},
                "y": {"field": "d0", "type": "quantitative", "scale": {"domain": [0, 6], "reverse": true, "nice": false, "zero": false},
                  "axis": {"orient": "left", "values": [0, 0.25, 0.5, 0.75, 1, 1.25, 1.5, 1.75, 2, 2.25, 2.5, 2.75, 3, 3.25, 3.5, 3.75, 4, 4.25, 4.5, 4.75, 5, 5.25, 5.5, 5.75, 6], "labels": false, "title": null, "minExtent": 0, "maxExtent": 0}},
                "y2": {"field": "d1"}
              }
            },
            {
              "data": {"name": "mdf07"},
              "mark": {"type": "line", "color": "black", "strokeWidth": 1.3},
              "encoding": {
                "x": {"field": "v", "type": "quantitative", "scale": {"domain": [0, 108], "nice": false, "zero": false},
                  "axis": {"orient": "top", "values": [0, 5, 10, 15, 20, 25, 30, 35, 40, 45, 50, 55, 60, 65, 70, 75, 80, 85, 90, 95, 100, 105], "labelExpr": "datum.value % 50 === 0 ? toString(datum.value) : ''", "title": ["MDF", "(mT)"], "labelFontSize": 19, "titleFontSize": 20, "titleLineHeight": 26, "labelPadding": 17, "titlePadding": 12}},
                "y": {"field": "d", "type": "quantitative", "scale": {"domain": [0, 6], "reverse": true, "nice": false, "zero": false},
                  "axis": {"orient": "left", "values": [0, 0.25, 0.5, 0.75, 1, 1.25, 1.5, 1.75, 2, 2.25, 2.5, 2.75, 3, 3.25, 3.5, 3.75, 4, 4.25, 4.5, 4.75, 5, 5.25, 5.5, 5.75, 6], "labels": false, "title": null, "minExtent": 0, "maxExtent": 0}},
                "detail": {"field": "s", "type": "nominal"},
                "order": {"field": "d", "type": "quantitative"}
              }
            },
            {
              "data": {"name": "notes07"},
              "mark": {"type": "text", "align": "left", "baseline": "middle", "fontSize": 21, "color": "black"},
              "encoding": {
                "x": {"field": "v", "type": "quantitative", "scale": {"domain": [0, 108], "nice": false, "zero": false},
                  "axis": {"orient": "top", "values": [0, 5, 10, 15, 20, 25, 30, 35, 40, 45, 50, 55, 60, 65, 70, 75, 80, 85, 90, 95, 100, 105], "labelExpr": "datum.value % 50 === 0 ? toString(datum.value) : ''", "title": ["MDF", "(mT)"], "labelFontSize": 19, "titleFontSize": 20, "titleLineHeight": 26, "labelPadding": 17, "titlePadding": 12}},
                "y": {"field": "d", "type": "quantitative", "scale": {"domain": [0, 6], "reverse": true, "nice": false, "zero": false},
                  "axis": {"orient": "left", "values": [0, 0.25, 0.5, 0.75, 1, 1.25, 1.5, 1.75, 2, 2.25, 2.5, 2.75, 3, 3.25, 3.5, 3.75, 4, 4.25, 4.5, 4.75, 5, 5.25, 5.5, 5.75, 6], "labels": false, "title": null, "minExtent": 0, "maxExtent": 0}},
                "text": {"field": "label"}
              }
            }
          ]
        },
        {
          "width": 110,
          "height": 310,
          "layer": [
            {
              "data": {"name": "bands07"},
              "mark": {"type": "rect", "color": "#cdcdcd"},
              "encoding": {
                "x": {"datum": 0, "type": "quantitative", "scale": {"domain": [0, 0.025], "nice": false, "zero": false},
                  "axis": {"orient": "top", "values": [0, 0.0025, 0.005, 0.0075, 0.01, 0.0125, 0.015, 0.0175, 0.02, 0.0225, 0.025], "labelExpr": "indexof([0, 0.0125, 0.025], datum.value) >= 0 ? toString(datum.value) : ''", "title": ["ARM/k", " "], "labelFontSize": 19, "titleFontSize": 20, "titleLineHeight": 26, "labelPadding": 17, "titlePadding": 12}},
                "x2": {"datum": 0.025},
                "y": {"field": "d0", "type": "quantitative", "scale": {"domain": [0, 6], "reverse": true, "nice": false, "zero": false},
                  "axis": {"orient": "left", "values": [0, 0.25, 0.5, 0.75, 1, 1.25, 1.5, 1.75, 2, 2.25, 2.5, 2.75, 3, 3.25, 3.5, 3.75, 4, 4.25, 4.5, 4.75, 5, 5.25, 5.5, 5.75, 6], "labels": false, "title": null, "minExtent": 0, "maxExtent": 0}},
                "y2": {"field": "d1"}
              }
            },
            {
              "data": {"name": "arm07"},
              "mark": {"type": "line", "color": "black", "strokeWidth": 1.3},
              "encoding": {
                "x": {"field": "v", "type": "quantitative", "scale": {"domain": [0, 0.025], "nice": false, "zero": false},
                  "axis": {"orient": "top", "values": [0, 0.0025, 0.005, 0.0075, 0.01, 0.0125, 0.015, 0.0175, 0.02, 0.0225, 0.025], "labelExpr": "indexof([0, 0.0125, 0.025], datum.value) >= 0 ? toString(datum.value) : ''", "title": ["ARM/k", " "], "labelFontSize": 19, "titleFontSize": 20, "titleLineHeight": 26, "labelPadding": 17, "titlePadding": 12}},
                "y": {"field": "d", "type": "quantitative", "scale": {"domain": [0, 6], "reverse": true, "nice": false, "zero": false},
                  "axis": {"orient": "left", "values": [0, 0.25, 0.5, 0.75, 1, 1.25, 1.5, 1.75, 2, 2.25, 2.5, 2.75, 3, 3.25, 3.5, 3.75, 4, 4.25, 4.5, 4.75, 5, 5.25, 5.5, 5.75, 6], "labels": false, "title": null, "minExtent": 0, "maxExtent": 0}},
                "order": {"field": "d", "type": "quantitative"}
              }
            }
          ]
        }
      ]
    },
    {
      "width": 688,
      "height": 131,
      "data": {"name": "legend"},
      "layer": [
        {
          "data": {"values": [{}]},
          "mark": {"type": "rect", "filled": false, "color": "black", "strokeWidth": 1.5},
          "encoding": {
            "x": {"datum": 0.9174, "type": "quantitative", "scale": {"domain": [0.5868, 3.4298], "nice": false, "zero": false}, "axis": null},
            "x2": {"datum": 3.4298},
            "y": {"datum": 0.2, "type": "quantitative", "scale": {"domain": [0.2, 4.5667], "reverse": true, "nice": false, "zero": false}, "axis": null},
            "y2": {"datum": 3.633}
          }
        },
        {
          "mark": {"type": "rule", "x2Offset": 30},
          "encoding": {
            "x": {"field": "col", "type": "quantitative", "scale": {"domain": [0.5868, 3.4298], "nice": false, "zero": false}, "axis": null},
            "x2": {"field": "col"},
            "y": {"field": "row", "type": "quantitative", "scale": {"domain": [0.2, 4.5667], "reverse": true, "nice": false, "zero": false}, "axis": null},
            "color": {"field": "type", "type": "nominal", "legend": null, "scale": {"domain": ["silty lamina", "silty layer", "sandy lamina", "ash layer", "Marker bed, fine-grained,", "Wavy"], "range": ["#6e6e6e", "#808080", "#4a4a4a", "#000000", "#a6a6a6", "#111111"]}},
            "strokeDash": {"field": "type", "type": "nominal", "legend": null, "scale": {"domain": ["silty lamina", "silty layer", "sandy lamina", "ash layer", "Marker bed, fine-grained,", "Wavy"], "range": [[3, 2], [1, 0], [1.2, 1.6], [1, 0], [1, 1], [1, 0]]}},
            "strokeWidth": {"field": "type", "type": "nominal", "legend": null, "scale": {"type": "ordinal", "domain": ["silty lamina", "silty layer", "sandy lamina", "ash layer", "Marker bed, fine-grained,", "Wavy"], "range": [1, 1.4, 1.3, 3.5, 3.5, 1.5]}}
          }
        },
        {
          "mark": {"type": "text", "align": "left", "baseline": "middle", "dx": 38, "fontSize": 21, "color": "black"},
          "encoding": {
            "x": {"field": "col", "type": "quantitative", "scale": {"domain": [0.5868, 3.4298], "nice": false, "zero": false}, "axis": null},
            "y": {"field": "row", "type": "quantitative", "scale": {"domain": [0.2, 4.5667], "reverse": true, "nice": false, "zero": false}, "axis": null},
            "text": {"field": "type"}
          }
        }
      ]
    },
    {
      "bounds": "flush",
      "spacing": 26,
      "hconcat": [
        {
          "width": 124,
          "height": 302,
          "title": {"text": "Core SED-12", "anchor": "start", "frame": "group", "offset": 36, "dx": 10, "fontSize": 21, "fontWeight": "normal", "color": "black"},
          "layer": [
            {
              "data": {"values": [{"top": 0.03, "base": 6.9}]},
              "mark": {"type": "rect", "fill": "white", "stroke": "#333333", "strokeWidth": 1.2},
              "encoding": {
                "x": {"datum": 0, "type": "quantitative", "scale": {"domain": [-9.054, 7.703], "nice": false, "zero": false}, "axis": null},
                "x2": {"datum": 5},
                "y": {"field": "top", "type": "quantitative", "scale": {"domain": [0, 7], "reverse": true, "nice": false, "zero": false}, "axis": null},
                "y2": {"field": "base"}
              }
            },
            {
              "data": {"values": [{"c": 1}, {"c": 2}, {"c": 3}, {"c": 4}]},
              "mark": {"type": "rule", "color": "#9a9a9a", "strokeDash": [1, 2], "strokeWidth": 0.8},
              "encoding": {
                "x": {"field": "c", "type": "quantitative", "scale": {"domain": [-9.054, 7.703], "nice": false, "zero": false}, "axis": null},
                "y": {"datum": 0.03, "type": "quantitative", "scale": {"domain": [0, 7], "reverse": true, "nice": false, "zero": false}, "axis": null},
                "y2": {"datum": 6.9}
              }
            },
            {
              "data": {"name": "lith12"},
              "mark": {"type": "rule"},
              "encoding": {
                "x": {"datum": 0, "type": "quantitative", "scale": {"domain": [-9.054, 7.703], "nice": false, "zero": false}, "axis": null},
                "x2": {"datum": 5},
                "y": {"field": "d", "type": "quantitative", "scale": {"domain": [0, 7], "reverse": true, "nice": false, "zero": false}, "axis": null},
                "color": {"field": "type", "type": "nominal", "legend": null, "scale": {"domain": ["silty lamina", "silty layer", "sandy lamina", "ash layer", "Marker bed, fine-grained,", "Wavy"], "range": ["#6e6e6e", "#808080", "#4a4a4a", "#000000", "#a6a6a6", "#111111"]}},
                "strokeDash": {"field": "type", "type": "nominal", "legend": null, "scale": {"domain": ["silty lamina", "silty layer", "sandy lamina", "ash layer", "Marker bed, fine-grained,", "Wavy"], "range": [[3, 2], [1, 0], [1.2, 1.6], [1, 0], [1, 1], [1, 0]]}},
                "strokeWidth": {"field": "type", "type": "nominal", "legend": null, "scale": {"type": "ordinal", "domain": ["silty lamina", "silty layer", "sandy lamina", "ash layer", "Marker bed, fine-grained,", "Wavy"], "range": [1, 1.4, 1.3, 3.5, 3.5, 1.5]}}
              }
            }
          ]
        },
        {
          "width": 107,
          "height": 302,
          "data": {"name": "k12"},
          "mark": {"type": "line", "color": "black", "strokeWidth": 1.2},
          "encoding": {
            "x": {"field": "v", "type": "quantitative", "scale": {"domain": [0, 160], "nice": false, "zero": false},
              "axis": {"orient": "top", "values": [0, 10, 20, 30, 40, 50, 60, 70, 80, 90, 100, 110, 120, 130, 140, 150, 160], "labelExpr": "datum.value % 80 === 0 ? toString(datum.value) : ''", "title": ["κ (10⁻⁵) SI", " "], "titleFont": "Liberation Serif", "labelFont": "Lato", "labelFontSize": 17, "titleFontSize": 19, "titleLineHeight": 27, "labelPadding": 12, "titlePadding": 2}},
            "y": {"field": "d", "type": "quantitative", "scale": {"domain": [0, 7], "reverse": true, "nice": false, "zero": false},
              "axis": {"orient": "left", "values": [0, 0.2, 0.4, 0.6, 0.8, 1, 1.2, 1.4, 1.6, 1.8, 2, 2.2, 2.4, 2.6, 2.8, 3, 3.2, 3.4, 3.6, 3.8, 4, 4.2, 4.4, 4.6, 4.8, 5, 5.2, 5.4, 5.6, 5.8, 6, 6.2, 6.4, 6.6, 6.8, 7], "labelExpr": "datum.value % 1 === 0 ? toString(datum.value) : ''", "title": "depth (mbsf)", "titleY": 127, "titlePadding": 2, "labelPadding": 9, "labelFontSize": 19, "titleFontSize": 21}},
            "order": {"field": "d", "type": "quantitative"}
          }
        },
        {
          "width": 107,
          "height": 302,
          "data": {"name": "inc12"},
          "mark": {"type": "line", "color": "black", "strokeWidth": 1.2},
          "encoding": {
            "x": {"field": "v", "type": "quantitative", "scale": {"domain": [-90, 0], "nice": false, "zero": false},
              "axis": {"orient": "top", "values": [-90, -80, -70, -60, -50, -40, -30, -20, -10, 0], "labelExpr": "datum.value % 30 === 0 ? toString(datum.value) : ''", "title": ["Inclination", "(°)"], "titleFont": "Lato", "labelFont": "Lato", "labelFontSize": 17, "titleFontSize": 19, "titleLineHeight": 27, "labelPadding": 12, "titlePadding": 2}},
            "y": {"field": "d", "type": "quantitative", "scale": {"domain": [0, 7], "reverse": true, "nice": false, "zero": false},
              "axis": {"orient": "left", "values": [0, 0.2, 0.4, 0.6, 0.8, 1, 1.2, 1.4, 1.6, 1.8, 2, 2.2, 2.4, 2.6, 2.8, 3, 3.2, 3.4, 3.6, 3.8, 4, 4.2, 4.4, 4.6, 4.8, 5, 5.2, 5.4, 5.6, 5.8, 6, 6.2, 6.4, 6.6, 6.8, 7], "labels": false, "title": null, "minExtent": 0, "maxExtent": 0}},
            "order": {"field": "d", "type": "quantitative"}
          }
        },
        {
          "width": 107,
          "height": 302,
          "data": {"name": "int12"},
          "mark": {"type": "line", "color": "black", "strokeWidth": 1.2},
          "encoding": {
            "x": {"field": "v", "type": "quantitative", "scale": {"domain": [0, 0.4], "nice": false, "zero": false},
              "axis": {"orient": "top", "values": [0, 0.025, 0.05, 0.075, 0.1, 0.125, 0.15, 0.175, 0.2, 0.225, 0.25, 0.275, 0.3, 0.325, 0.35, 0.375, 0.4], "labelExpr": "indexof([0, 0.2, 0.4], datum.value) >= 0 ? toString(datum.value) : ''", "title": ["Intensity", "(A/m)"], "titleFont": "Lato", "labelFont": "Lato", "labelFontSize": 17, "titleFontSize": 19, "titleLineHeight": 27, "labelPadding": 12, "titlePadding": 2}},
            "y": {"field": "d", "type": "quantitative", "scale": {"domain": [0, 7], "reverse": true, "nice": false, "zero": false},
              "axis": {"orient": "left", "values": [0, 0.2, 0.4, 0.6, 0.8, 1, 1.2, 1.4, 1.6, 1.8, 2, 2.2, 2.4, 2.6, 2.8, 3, 3.2, 3.4, 3.6, 3.8, 4, 4.2, 4.4, 4.6, 4.8, 5, 5.2, 5.4, 5.6, 5.8, 6, 6.2, 6.4, 6.6, 6.8, 7], "labels": false, "title": null, "minExtent": 0, "maxExtent": 0}},
            "detail": {"field": "s", "type": "nominal"},
            "order": {"field": "d", "type": "quantitative"}
          }
        },
        {
          "width": 107,
          "height": 302,
          "layer": [
            {
              "data": {"name": "mdf12"},
              "mark": {"type": "line", "color": "black", "strokeWidth": 1.2},
              "encoding": {
                "x": {"field": "v", "type": "quantitative", "scale": {"domain": [0, 100], "nice": false, "zero": false},
                  "axis": {"orient": "top", "values": [0, 5, 10, 15, 20, 25, 30, 35, 40, 45, 50, 55, 60, 65, 70, 75, 80, 85, 90, 95, 100], "labelExpr": "datum.value % 50 === 0 ? toString(datum.value) : ''", "title": ["MDF", "(mT)"], "titleFont": "Lato", "labelFont": "Lato", "labelFontSize": 17, "titleFontSize": 19, "titleLineHeight": 27, "labelPadding": 12, "titlePadding": 2}},
                "y": {"field": "d", "type": "quantitative", "scale": {"domain": [0, 7], "reverse": true, "nice": false, "zero": false},
                  "axis": {"orient": "left", "values": [0, 0.2, 0.4, 0.6, 0.8, 1, 1.2, 1.4, 1.6, 1.8, 2, 2.2, 2.4, 2.6, 2.8, 3, 3.2, 3.4, 3.6, 3.8, 4, 4.2, 4.4, 4.6, 4.8, 5, 5.2, 5.4, 5.6, 5.8, 6, 6.2, 6.4, 6.6, 6.8, 7], "labels": false, "title": null, "minExtent": 0, "maxExtent": 0}},
                "detail": {"field": "s", "type": "nominal"},
                "order": {"field": "d", "type": "quantitative"}
              }
            },
            {
              "data": {"name": "notes12"},
              "mark": {"type": "text", "align": "left", "baseline": "middle", "fontSize": 20, "color": "black"},
              "encoding": {
                "x": {"field": "v", "type": "quantitative", "scale": {"domain": [0, 100], "nice": false, "zero": false},
                  "axis": {"orient": "top", "values": [0, 5, 10, 15, 20, 25, 30, 35, 40, 45, 50, 55, 60, 65, 70, 75, 80, 85, 90, 95, 100], "labelExpr": "datum.value % 50 === 0 ? toString(datum.value) : ''", "title": ["MDF", "(mT)"], "titleFont": "Lato", "labelFont": "Lato", "labelFontSize": 17, "titleFontSize": 19, "titleLineHeight": 27, "labelPadding": 12, "titlePadding": 2}},
                "y": {"field": "d", "type": "quantitative", "scale": {"domain": [0, 7], "reverse": true, "nice": false, "zero": false},
                  "axis": {"orient": "left", "values": [0, 0.2, 0.4, 0.6, 0.8, 1, 1.2, 1.4, 1.6, 1.8, 2, 2.2, 2.4, 2.6, 2.8, 3, 3.2, 3.4, 3.6, 3.8, 4, 4.2, 4.4, 4.6, 4.8, 5, 5.2, 5.4, 5.6, 5.8, 6, 6.2, 6.4, 6.6, 6.8, 7], "labels": false, "title": null, "minExtent": 0, "maxExtent": 0}},
                "text": {"field": "label"}
              }
            }
          ]
        },
        {
          "width": 107,
          "height": 302,
          "data": {"name": "arm12"},
          "mark": {"type": "line", "color": "black", "strokeWidth": 1.2},
          "encoding": {
            "x": {"field": "v", "type": "quantitative", "scale": {"domain": [0, 0.013], "nice": false, "zero": false},
              "axis": {"orient": "top", "values": [0, 0.001625, 0.00325, 0.004875, 0.0065, 0.008125, 0.00975, 0.011375, 0.013], "labelExpr": "indexof([0, 0.0065, 0.013], datum.value) >= 0 ? toString(datum.value) : ''", "title": ["ARM/κ", " "], "titleFont": "Lato", "labelFont": "Lato", "labelFontSize": 17, "titleFontSize": 19, "titleLineHeight": 27, "labelPadding": 12, "titlePadding": 2}},
            "y": {"field": "d", "type": "quantitative", "scale": {"domain": [0, 7], "reverse": true, "nice": false, "zero": false},
              "axis": {"orient": "left", "values": [0, 0.2, 0.4, 0.6, 0.8, 1, 1.2, 1.4, 1.6, 1.8, 2, 2.2, 2.4, 2.6, 2.8, 3, 3.2, 3.4, 3.6, 3.8, 4, 4.2, 4.4, 4.6, 4.8, 5, 5.2, 5.4, 5.6, 5.8, 6, 6.2, 6.4, 6.6, 6.8, 7], "labels": false, "title": null, "minExtent": 0, "maxExtent": 0}},
            "detail": {"field": "s", "type": "nominal"},
            "order": {"field": "d", "type": "quantitative"}
          }
        }
      ]
    }
  ]
}
